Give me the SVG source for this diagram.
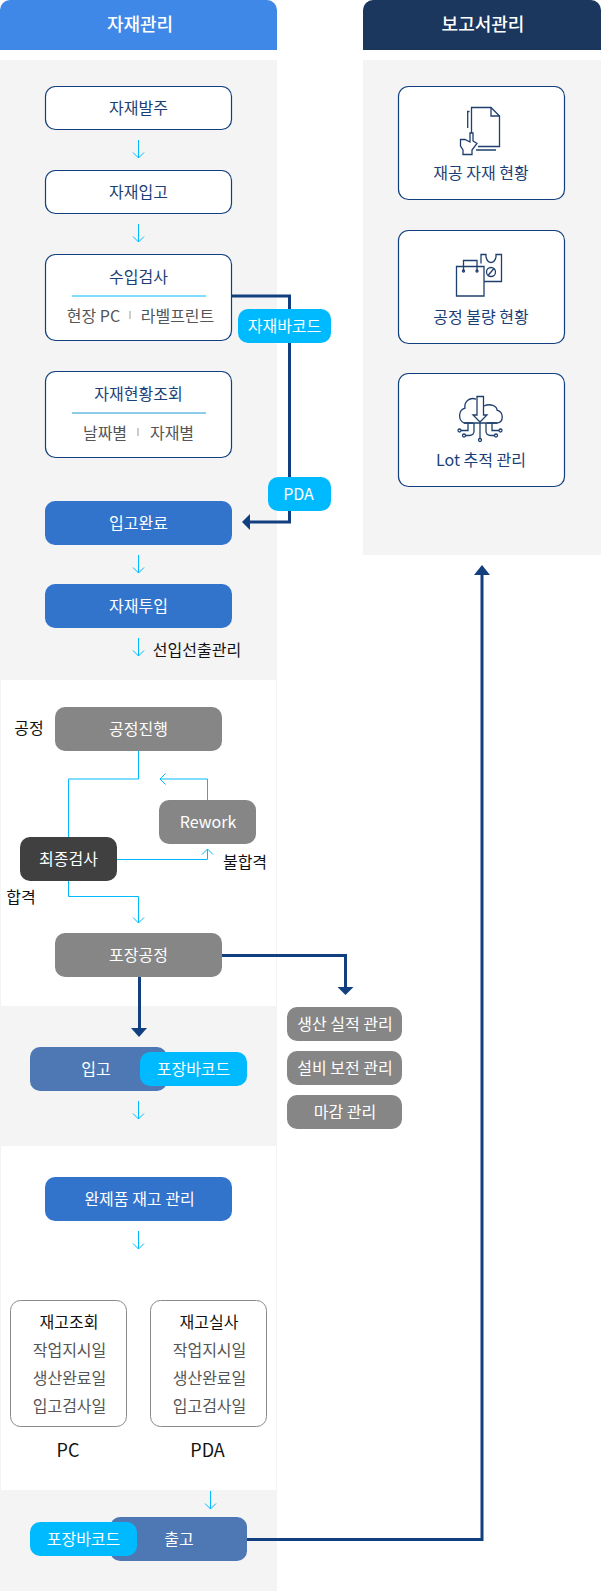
<svg xmlns="http://www.w3.org/2000/svg" width="601" height="1591" viewBox="0 0 601 1591">
<style>
text{font-family:"Noto Sans CJK KR","Noto Sans",sans-serif;font-size:16px;text-anchor:middle}
.o{fill:#fff;stroke:#123f7f;stroke-width:1.2}
.blue{fill:#3273cb}.gray{fill:#868686}.steel{fill:#4e78b3}.pill{fill:#00baff}
.tn{fill:#1c3f78}.tw{fill:#fff}.tg{fill:#555}.tk{fill:#111}
.c{fill:none;stroke:#00baff;stroke-width:1}
.d{fill:none;stroke:#123f7f;stroke-width:3}
.h{fill:#123f7f}
.i{fill:none;stroke:#1f3f6e;stroke-width:1.3}
.sep{stroke:#ccc;stroke-width:2}
</style>
<defs>
<path id="ad" class="c" d="M138.5 0V18M133 12.5L138.5 18L144 12.5"/>
</defs>
<g id="panels">
<rect x="0" y="60" width="277" height="1531" fill="#f4f4f4"/>
<rect x="1" y="680" width="275" height="326" fill="#fff"/>
<rect x="1" y="1146" width="275" height="344" fill="#fff"/>
<rect x="363" y="60" width="238" height="495" fill="#f4f4f4"/>
</g>
<g id="header-material"><path d="M0 50V10A10 10 0 0 1 10 0H267A10 10 0 0 1 277 10V50Z" fill="#3f88e8"/><text x="140" y="31" class="tw" style="font-size:18px;font-weight:500">자재관리</text></g>
<g id="header-report"><path d="M363 50V10A10 10 0 0 1 373 0H591A10 10 0 0 1 601 10V50Z" fill="#1b375d"/><text x="483" y="31" class="tw" style="font-size:18px;font-weight:500">보고서관리</text></g>
<g id="connectors">
<use href="#ad" y="140"/><use href="#ad" y="224"/><use href="#ad" y="555"/><use href="#ad" y="638"/><use href="#ad" y="1101"/><use href="#ad" y="1231"/>
<use href="#ad" x="72" y="1491"/>
<path class="c" d="M138.5 751V779H68.5V837"/>
<path class="c" d="M207.5 800V779H160M165.5 773.5L160 779L165.500 784.5"/>
<path class="c" d="M117 859.500H207.500V849M202 854.500L207.500 849L213 854.500"/>
<path class="c" d="M68.500 881V896.500H138.500V923M133 917.500L138.500 923L144 917.500"/>
<path class="d" d="M232 296H289.500V522H250"/><path class="h" d="M242 522L250 514V530Z"/>
<path class="d" d="M222 955.500H345.500V988"/><path class="h" d="M337.500 987H353.500L345.500 995Z"/>
<path class="d" d="M139.500 977V1030"/><path class="h" d="M131 1028H147L139 1037Z"/>
<path class="d" d="M247 1539.500H482V574"/><path class="h" d="M474 575H490L482 565Z"/>
</g>
<g id="n1"><rect class="o" x="45.500" y="86.500" width="186" height="43" rx="10"/><text x="138.500" y="113.500" class="tn">자재발주</text></g>
<g id="n2"><rect class="o" x="45.500" y="170.500" width="186" height="43" rx="10"/><text x="138.500" y="197.500" class="tn">자재입고</text></g>
<g id="n3"><rect class="o" x="45.500" y="254.500" width="186" height="86" rx="10"/><text x="138.500" y="282.500" class="tn">수입검사</text><path d="M72 296H206" stroke="#00baff" stroke-width="1"/><text x="93.500" y="321.500" class="tg">현장 PC</text><path class="sep" d="M130 311V319"/><text x="177.500" y="321.500" class="tg">라벨프린트</text></g>
<g id="n4"><rect class="o" x="45.500" y="371.500" width="186" height="86" rx="10"/><text x="138.500" y="399.500" class="tn">자재현황조회</text><path d="M72 413H206" stroke="#1b9ad6" stroke-width="1"/><text x="105" y="438.500" class="tg">날짜별</text><path class="sep" d="M138 428V436"/><text x="172" y="438.500" class="tg">자재별</text></g>
<g id="n5"><rect class="blue" x="45" y="501" width="187" height="44" rx="10"/><text x="138.500" y="528.500" class="tw">입고완료</text></g>
<g id="n6"><rect class="blue" x="45" y="584" width="187" height="44" rx="10"/><text x="138.500" y="611.500" class="tw">자재투입</text></g>
<text x="197" y="655.500" class="tk">선입선출관리</text>
<g id="n7"><rect class="gray" x="55" y="707" width="167" height="44" rx="10"/><text x="138.500" y="734.500" class="tw">공정진행</text></g>
<text x="29" y="733.500" class="tk">공정</text>
<g id="n8"><rect class="gray" x="159" y="800" width="97" height="44" rx="10"/><text x="208" y="828" class="tw">Rework</text></g>
<g id="n9"><rect x="20" y="837" width="97" height="44" rx="10" fill="#404040"/><text x="68.500" y="864.500" class="tw">최종검사</text></g>
<text x="245" y="867.500" class="tk">불합격</text>
<text x="21" y="902.500" class="tk">합격</text>
<g id="n10"><rect class="gray" x="55" y="933" width="167" height="44" rx="10"/><text x="138.500" y="960.500" class="tw">포장공정</text></g>
<g id="n11"><rect class="steel" x="30" y="1047" width="137" height="44" rx="10"/><text x="96" y="1074.500" class="tw">입고</text></g>
<g id="n12"><rect class="pill" x="140" y="1052" width="107" height="34" rx="10"/><text x="193.500" y="1074.500" class="tw">포장바코드</text></g>
<g id="n13"><rect class="gray" x="287" y="1007" width="115" height="34" rx="10"/><text x="345" y="1029.500" class="tw">생산 실적 관리</text></g>
<g id="n14"><rect class="gray" x="287" y="1051" width="115" height="34" rx="10"/><text x="345" y="1073.500" class="tw">설비 보전 관리</text></g>
<g id="n15"><rect class="gray" x="287" y="1095" width="115" height="34" rx="10"/><text x="345" y="1117.500" class="tw">마감 관리</text></g>
<g id="n16"><rect class="blue" x="45" y="1177" width="187" height="44" rx="10"/><text x="139.500" y="1204.500" class="tw">완제품 재고 관리</text></g>
<g id="n17"><rect x="10.500" y="1300.500" width="116" height="126" rx="10" fill="#fff" stroke="#8a8a8a"/><text x="69" y="1327.500" class="tk">재고조회</text><text x="69.500" y="1355.500" class="tg">작업지시일</text><text x="69.500" y="1383.500" class="tg">생산완료일</text><text x="69.500" y="1411.500" class="tg">입고검사일</text></g>
<g id="n18"><rect x="150.500" y="1300.500" width="116" height="126" rx="10" fill="#fff" stroke="#8a8a8a"/><text x="209" y="1327.500" class="tk">재고실사</text><text x="209.500" y="1355.500" class="tg">작업지시일</text><text x="209.500" y="1383.500" class="tg">생산완료일</text><text x="209.500" y="1411.500" class="tg">입고검사일</text></g>
<text x="68" y="1457" class="tk" style="font-size:18px">PC</text>
<text x="207.500" y="1457" class="tk" style="font-size:18px">PDA</text>
<g id="n19"><rect class="steel" x="110" y="1517" width="137" height="44" rx="10"/><text x="179" y="1544.500" class="tw">출고</text></g>
<g id="n20"><rect class="pill" x="30" y="1522" width="107" height="34" rx="10"/><text x="83.500" y="1544.500" class="tw">포장바코드</text></g>
<g id="n21"><rect class="pill" x="238" y="309" width="93" height="34" rx="10"/><text x="284.500" y="331.500" class="tw">자재바코드</text></g>
<g id="n22"><rect class="pill" x="268" y="477" width="63" height="34" rx="10"/><text x="298.500" y="499.500" class="tw">PDA</text></g>
<g id="r1"><rect class="o" x="398.500" y="86.500" width="166" height="113" rx="10"/>
<path class="i" d="M471.500 133V107.500H491L499.500 116V146.500H478"/><path class="i" d="M491 107.500V116H499.500"/><path class="i" d="M467.700 128V111.500H469.500M476 150H496"/>
<path class="i" d="M470 133V142L465 139.500H460.500V146L463 150V154.500H472V150L477 143.500L473 141V133Z"/>
<text x="481" y="178.500" class="tn">재공 자재 현황</text></g>
<g id="r2"><rect class="o" x="398.500" y="230.500" width="166" height="113" rx="10"/>
<path class="i" d="M456.500 266.500H484V296H456.500Z"/><path class="i" d="M463.500 271V260.500H477V271"/><circle cx="463.500" cy="271" r="1" class="i"/><circle cx="477" cy="271" r="1" class="i"/>
<path class="i" d="M481 263.500V254.500H486V257C487 261 489 262.500 491 262.500C493 262.500 495 261 496 257V254.500H501.500V281.500H484"/><circle cx="491" cy="272" r="4.500" class="i"/><path class="i" d="M488 275.500L494 268.500"/>
<text x="481" y="322.500" class="tn">공정 불량 현황</text></g>
<g id="r3"><rect class="o" x="398.500" y="373.500" width="166" height="113" rx="10"/>
<path class="i" d="M476 399C469 397 464 402 465 408C458 410 458 420 464 423H473M487 423H497C504 422 504 412 497 410C497 406 490 403 484 406"/><path class="i" d="M477 396.500H483.500V415H487L480 422L473 415H477Z"/>
<path class="i" d="M464 423H497"/>
<path class="i" d="M480 423V439M474 423V431C474 434 472 435.500 469 435.500H465M486 423V431C486 434 488 435.500 491 435.500H495M468 423V430.500H461M492 423V430.500H499"/>
<circle cx="480" cy="440" r="1.500" class="i"/><circle cx="464" cy="435.500" r="1.500" class="i"/><circle cx="496" cy="435.500" r="1.500" class="i"/><circle cx="459.500" cy="430.500" r="1.500" class="i"/><circle cx="500.500" cy="430.500" r="1.500" class="i"/>
<text x="481" y="466" class="tn">Lot 추적 관리</text></g>
</svg>
